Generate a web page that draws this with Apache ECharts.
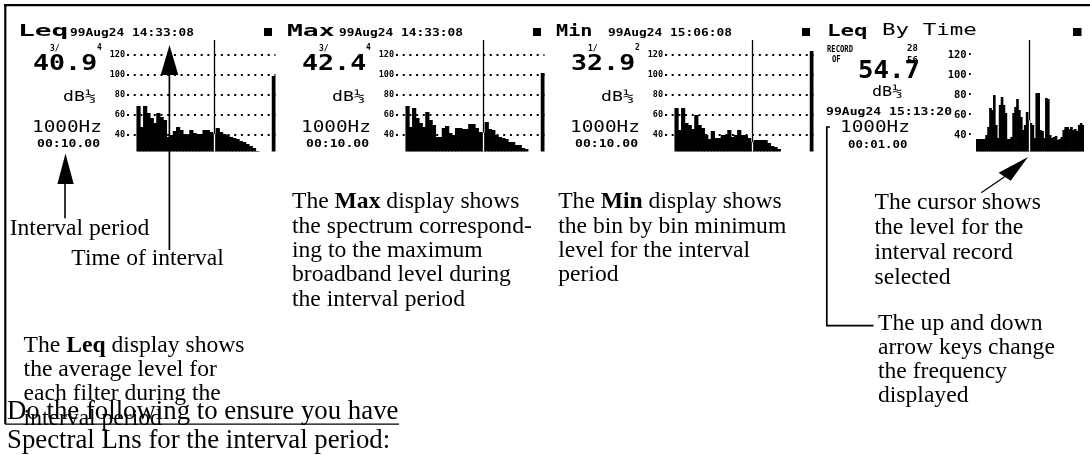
<!DOCTYPE html>
<html><head><meta charset="utf-8">
<script src="https://cdn.jsdelivr.net/npm/echarts@6/dist/echarts.min.js"></script>
<style>html,body{margin:0;padding:0;background:#fff;}#c{width:1090px;height:455px;}</style>
</head><body><div id="c"></div>
<script>
// ---------- DATA ----------
const BANDS = ['5','6.3','8','10','12.5','16','20','25','31.5','40','50','63','80','100','125','160','200','250','315','400','500','630','800','1000','1250','1600','2000','2500','3150','4000','5000','6300','8000','10k','12.5k','16k','20k'];
const LEQ_SPECTRUM = [69,48,69,62,57,52,62,58,55,38,40,44,48,45,41,40,45,42,41,41,45,45,43,40.9,47,43,41,40,38,37,36,34,33,31,29,27,24];
const MAX_SPECTRUM = [69,48,67,57,52,48,63,55,50,38,38,47,49,42,40,47,47,46,46,51,51,47,43,42.4,53,46,45,40,38,37,36,33,33,30,30,27,26];
const MIN_SPECTRUM = [67,45,67,52,50,46,60,50,47,40,36,44,37,37,40,40,45,38,40,45,40,40,37,32.9,35,35,35,35,32,29,28,26,23,23,22,21,20];
const OVERALL_LEVELS = [99, 102, 124];
const RECORDS = ['1','2','3','4','5','6','7','8','9','10','11','12','13','14','15','16','17','18','19','20','21','22','23','24','25','26','27','28','29','30','31','32','33','34','35','36','37','38','39','40','41','42','43','44','45','46','47','48','49','50','51','52','53','54','55','56'];
const RECORD_LEQ = [36,36,36,36,36,40,48,67,65,80,50,37,70,78,70,62,36,36,38,62,68,76,65,58,45,50,63,54.7,52,50,37,82,82,45,44,37,77,76,40,37,38,39,35,36,38,45,48,48,46,48,45,46,44,50,52,50];
const Y_TICKS = [40, 60, 80, 100, 120];
const CURSOR_BAND = '1000';
const CURSOR_RECORD = '28';

const PANEL_TITLES = ['Leq', 'Max', 'Min'];
const PANEL_DATES = ['99Aug24 14:33:08', '99Aug24 14:33:08', '99Aug24 15:06:08'];
const PANEL_LEVELS = ['40.9', '42.4', '32.9'];
const PANEL_FRACTIONS = [['3/', '4'], ['3/', '4'], ['1/', '2']];
const PANEL_UNIT = 'dB\u2153';
const PANEL_FREQ = '1000Hz';
const PANEL_PERIOD = '00:10.00';
const TIME_TITLE = ['Leq', 'By Time'];
const TIME_RECORD = ['RECORD', 'OF', '28', '56'];
const TIME_LEVEL = '54.7';
const TIME_DATE = '99Aug24 15:13:20';
const TIME_PERIOD = '00:01.00';

const NOTE_MAX = ['The {b|Max} display shows', 'the spectrum correspond-', 'ing to the maximum', 'broadband level during', 'the interval period'];
const NOTE_MIN = ['The {b|Min} display shows', 'the bin by bin minimum', 'level for the interval', 'period'];
const NOTE_CURSOR = ['The cursor shows', 'the level for the', 'interval record', 'selected'];
const NOTE_KEYS = ['The up and down', 'arrow keys change', 'the frequency', 'displayed'];
const NOTE_LEQ = ['The {b|Leq} display shows', 'the average level for', 'each filter during the', 'interval period'];
const NOTE_INTERVAL = 'Interval period';
const NOTE_TIME = 'Time of interval';
const FOOT_LINES = ['Do the following to ensure you have', 'Spectral Lns for the interval period:'];

// ---------- LAYOUT ----------
const PAD_L = 3, PAD_R = 4, SLOT = 3.3, REC_SLOT = 108 / 56;
const CATS = ['p1','p2','p3'].concat(BANDS, ['g1','g2','g3','g4','Overall']);
const NSLOT = CATS.length;
const PANEL_DX = 269;
const YMIN = 23.5, YMAX = 135;
const MONO = 'DejaVu Sans Mono';
const SERIF = 'Liberation Serif';

function spectrumData(spec, overall) {
  const d = [];
  for (let i = 0; i < PAD_L; i++) d.push(null);
  spec.forEach(v => d.push(v));
  for (let i = 0; i < PAD_R; i++) d.push(null);
  d.push(overall);
  return d;
}

function cursorLines(idx, val) {
  return [
    [{coord: [idx, YMIN], lineStyle: {color: '#fff', width: 1.3, type: 'solid'}, label: {show: false}}, {coord: [idx, val]}],
    [{coord: [idx, val], lineStyle: {color: '#000', width: 1.3, type: 'solid'}, label: {show: false}}, {coord: [idx, YMAX]}]
  ];
}

const grids = [], xAxes = [], yAxes = [], series = [];
const specs = [LEQ_SPECTRUM, MAX_SPECTRUM, MIN_SPECTRUM];
const cursorIdx = CATS.indexOf(CURSOR_BAND);
for (let p = 0; p < 3; p++) {
  grids.push({left: 127 + PANEL_DX * p, top: 40, width: SLOT * NSLOT, height: YMAX - YMIN});
  xAxes.push({type: 'category', gridIndex: p, data: CATS, show: false});
  yAxes.push({type: 'value', gridIndex: p, min: YMIN, max: YMAX, show: false});
  const gridLines = Y_TICKS.map(v => ({
    yAxis: v,
    lineStyle: {color: '#000', width: 2, type: [2, 4.7]},
    label: {show: true, position: 'start', distance: 2, formatter: String(v), color: '#000',
            fontFamily: MONO, fontWeight: 'bold', fontSize: 8.5}
  }));
  const spec = specs[p];
  series.push({
    type: 'bar', xAxisIndex: p, yAxisIndex: p,
    data: spectrumData(spec, OVERALL_LEVELS[p]),
    barWidth: SLOT + 0.9, barGap: '-100%',
    itemStyle: {color: '#000'},
    emphasis: {disabled: true}, silent: true,
    markLine: {
      silent: true, animation: false, symbol: ['none', 'none'],
      emphasis: {disabled: true},
      data: gridLines.concat(cursorLines(cursorIdx, spec[BANDS.indexOf(CURSOR_BAND)]))
    }
  });
}
// By-time panel
grids.push({left: 976, top: 40, width: 108, height: YMAX - YMIN});
xAxes.push({type: 'category', gridIndex: 3, data: RECORDS, show: false});
yAxes.push({type: 'value', gridIndex: 3, min: YMIN, max: YMAX, show: false});
const recIdx = RECORDS.indexOf(CURSOR_RECORD);
series.push({
  type: 'bar', xAxisIndex: 3, yAxisIndex: 3, data: RECORD_LEQ,
  barWidth: REC_SLOT + 0.7, barGap: '-100%',
  itemStyle: {color: '#000'},
  emphasis: {disabled: true}, silent: true,
  markLine: {
    silent: true, animation: false, symbol: ['none', 'none'],
    emphasis: {disabled: true},
    data: Y_TICKS.map(v => ({
      yAxis: v,
      lineStyle: {color: 'rgba(0,0,0,0)', width: 0},
      label: {show: true, position: 'start', distance: 3, formatter: String(v) + '\u00b7', color: '#000',
              fontFamily: MONO, fontWeight: 'bold', fontSize: 10.5}
    })).concat(cursorLines(recIdx, RECORD_LEQ[recIdx]))
  }
});

// ---------- GRAPHICS (texts, annotations) ----------
const G = [];
function lcd(x, y, text, size, bold, sx) {
  G.push({type: 'text', x: x, y: y, scaleX: sx || 1, silent: true, z: 100,
    style: {text: text, x: 0, y: 0, fontFamily: MONO, fontSize: size, fontWeight: bold ? 'bold' : 'normal',
            fill: '#000', textAlign: 'left', textVerticalAlign: 'middle', align: 'left', verticalAlign: 'middle'}});
}
function serif(x, baseline, text, size, bold) {
  G.push({type: 'text', x: x, y: baseline - 0.34 * size, silent: true, z: 100,
    style: {text: text, x: 0, y: 0, fontFamily: SERIF, fontSize: size, fontWeight: bold ? 'bold' : 'normal',
            fill: '#000', textAlign: 'left', textVerticalAlign: 'middle', align: 'left', verticalAlign: 'middle',
            rich: {b: {fontFamily: SERIF, fontSize: size, fontWeight: 'bold', fill: '#000'}}}});
}
function para(x, base0, step, lines, size) {
  lines.forEach((t, i) => serif(x, base0 + i * step, t, size));
}
function rect(x, y, w, h) {
  G.push({type: 'rect', silent: true, z: 100, shape: {x: x, y: y, width: w, height: h}, style: {fill: '#000'}});
}
function poly(points, lw) {
  G.push({type: 'polyline', silent: true, z: 100, shape: {points: points}, style: {stroke: '#000', lineWidth: lw, fill: null}});
}
function tri(points) {
  G.push({type: 'polygon', silent: true, z: 100, shape: {points: points}, style: {fill: '#000'}});
}

// LCD panels
const TITLE_SX = [1.8, 1.7, 1.3];
for (let p = 0; p < 3; p++) {
  const dx = PANEL_DX * p;
  lcd(18 + dx, 31.5, PANEL_TITLES[p], 15.5, true, TITLE_SX[p]);
  lcd(70 + dx, 33, PANEL_DATES[p], 11, true, 1.17);
  rect(264 + dx, 28, 8, 8);
  lcd(50 + dx, 49, PANEL_FRACTIONS[p][0], 8, true);
  lcd(97 + dx, 47.5, PANEL_FRACTIONS[p][1], 8, true);
  lcd(33 + dx, 64.5, PANEL_LEVELS[p], 20.5, true, 1.3);
  lcd(63 + dx, 97, PANEL_UNIT, 14, false, 1.3);
  lcd(32 + dx, 128, PANEL_FREQ, 16, false, 1.21);
  lcd(37 + dx, 144, PANEL_PERIOD, 11, true, 1.19);
}
lcd(827, 31.5, TIME_TITLE[0], 15.5, true, 1.45);
lcd(882, 31.5, TIME_TITLE[1], 15, false, 1.5);
rect(1073, 28, 8.5, 8);
lcd(827, 49.5, TIME_RECORD[0], 9, true, 0.8);
lcd(832, 60, TIME_RECORD[1], 9, true, 0.8);
lcd(907, 49, TIME_RECORD[2], 9, true);
lcd(907, 60.5, TIME_RECORD[3], 9, true);
lcd(858, 72, TIME_LEVEL, 24, true, 1.07);
lcd(872, 92.5, PANEL_UNIT, 14, false, 1.2);
lcd(826, 112, TIME_DATE, 11, true, 1.19);
lcd(840, 128, PANEL_FREQ, 16, false, 1.21);
lcd(848, 145, TIME_PERIOD, 11, true, 1.12);

// frame
rect(4, 4, 1086, 2.2);
rect(4.2, 4, 2.2, 420);

// arrows
tri([[57.4, 184], [73.7, 184], [65.5, 153.5]]);
poly([[65, 183], [65, 218.3]], 1.6);
tri([[160.7, 75], [178.3, 75], [169.5, 45]]);
poly([[169.4, 74], [169.4, 250]], 1.7);
poly([[830, 127], [826.8, 127], [826.8, 325.7], [873.5, 325.7]], 1.7);
tri([[1028, 157], [998.6, 172.7], [1010.8, 180.7]]);
poly([[981.2, 192.7], [1005, 176.5]], 1.2);

// notes
const NS = 23.6;
serif(9.7, 237.3, NOTE_INTERVAL, NS);
serif(71.3, 267.3, NOTE_TIME, NS);
para(292, 210, 24.4, NOTE_MAX, NS);
para(558.2, 210, 24.4, NOTE_MIN, NS);
para(874.5, 210.5, 25, NOTE_CURSOR, NS);
para(878, 331.5, 24, NOTE_KEYS, NS);
para(23.6, 353.5, 24.3, NOTE_LEQ, NS);
serif(7, 420.7, FOOT_LINES[0], 26.8);
serif(7, 450.5, FOOT_LINES[1], 26.8);
rect(5, 423.4, 394, 1.3);

const chart = echarts.init(document.getElementById('c'), null, {renderer: 'canvas'});
chart.setOption({
  animation: false,
  backgroundColor: '#fff',
  grid: grids, xAxis: xAxes, yAxis: yAxes, series: series,
  graphic: {elements: G}
});
</script></body></html>
